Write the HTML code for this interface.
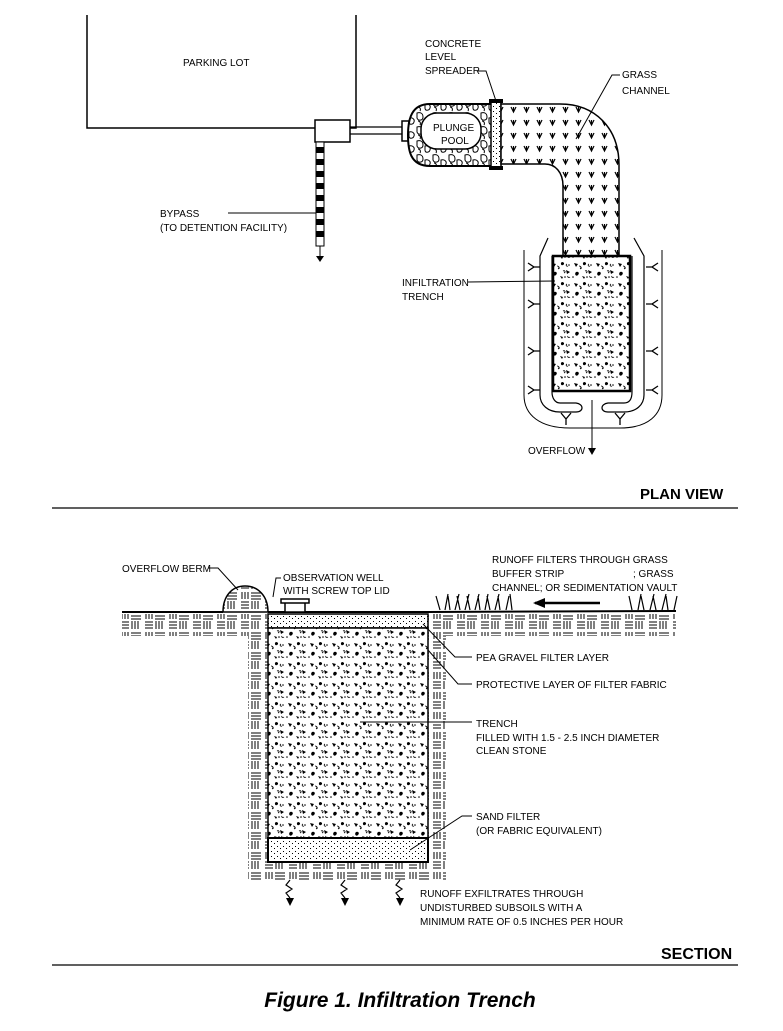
<!DOCTYPE html>
<html><head><meta charset="utf-8"><style>
html,body{margin:0;padding:0;background:#fff}
svg{display:block}
text{font-family:"Liberation Sans",Arial,sans-serif;font-size:10px;fill:#000}
</style></head><body>
<svg width="783" height="1031" viewBox="0 0 783 1031" xmlns="http://www.w3.org/2000/svg">
<defs>
<pattern id="stone" width="22" height="20" patternUnits="userSpaceOnUse">
<rect width="22" height="20" fill="#fff"/>
<path d="M2 3l4 1-2 3z M12 2c2 0 3 2 1 3s-3-2-1-3z M16 10l4 2-3 2z M4 12c2-1 4 1 2 3s-4-1-2-3z M10 16l3 1-1 2z" fill="#000"/>
<path d="M7 6c2 0 3 2 1 3M17 4c-2 1 0 3 1 2M13 11c2-1 3 1 1 2M18 16c-1 1 1 2 2 1" stroke="#000" fill="none" stroke-width="0.8"/>
<circle cx="9" cy="8" r="0.8"/><circle cx="19" cy="5" r="0.8"/><circle cx="1" cy="17" r="0.8"/><circle cx="15" cy="17" r="0.8"/>
</pattern>
<pattern id="grass" width="13" height="13" patternUnits="userSpaceOnUse">
<rect width="13" height="13" fill="#fff"/>
<path d="M4 3l2.5 5 2.5-5 M6.5 3v5" stroke="#000" stroke-width="1.2" fill="none"/>
</pattern>
<pattern id="dots" width="6" height="5" patternUnits="userSpaceOnUse">
<rect width="6" height="5" fill="#fff"/><rect x="1" y="1" width="1" height="1" fill="#000"/><rect x="4" y="3" width="1" height="1" fill="#000"/>
</pattern>
<pattern id="soil" width="24" height="20" patternUnits="userSpaceOnUse">
<rect width="24" height="20" fill="#fff"/>
<path d="M1 2h8M1 5h8M1 8h8 M12 1v8M15 1v8M18 1v8 M2 12v7M5 12v7M8 12v7 M11 13h10M11 16h10M11 19h10" stroke="#000" stroke-width="1"/>
</pattern>
<pattern id="rock" width="16" height="14" patternUnits="userSpaceOnUse">
<rect width="16" height="14" fill="#fff"/>
<path d="M1 1c3-1 6 0 6 4s-5 4-6 1z M9 6c3-1 6 1 5 4s-5 3-5 0z M2 9c2 0 3 2 2 4" stroke="#000" fill="none"/>
</pattern>
</defs>

<!-- PLAN VIEW -->
<path d="M87 15V128H356V15" fill="none" stroke="#000" stroke-width="1.5"/>
<text x="183" y="66">PARKING LOT</text>
<rect x="315" y="120" width="35" height="22" fill="#fff" stroke="#000" stroke-width="1.5"/>
<path d="M350 127H405M350 134H405" stroke="#000" stroke-width="1.2"/>
<rect x="316" y="142" width="8" height="104" fill="#fff" stroke="#000"/>
<path d="M316 150h8M316 162h8M316 174h8M316 186h8M316 198h8M316 210h8M316 222h8M316 234h8" stroke="#000" stroke-width="6"/>
<path d="M320 246V258" stroke="#000"/><path d="M316 256l4 6 4-6z"/>
<text x="160" y="217">BYPASS</text>
<text x="160" y="231">(TO DETENTION FACILITY)</text>
<path d="M228 213H316" stroke="#000"/>

<!-- plunge pool -->
<rect x="402" y="121" width="7" height="20" fill="#fff" stroke="#000" stroke-width="1.5"/>
<path d="M430 104H492V166H430C410 166 408 150 408 135 408 118 412 104 430 104Z" fill="url(#rock)" stroke="#000" stroke-width="2"/>
<rect x="421" y="113" width="60" height="36" rx="16" fill="#fff" stroke="#000" stroke-width="1.5"/>
<text x="433" y="131">PLUNGE</text>
<text x="441" y="144">POOL</text>
<rect x="491" y="102" width="10" height="65" fill="url(#dots)" stroke="#000" stroke-width="1.5"/>
<rect x="489" y="99" width="14" height="4"/><rect x="489" y="166" width="14" height="4"/>
<!-- grass channel -->
<path d="M501 104H560C595 104 619 128 619 165V256H563V186C563 172 555 164 545 164H501Z" fill="url(#grass)" stroke="#000" stroke-width="1.5"/>
<text x="425" y="47">CONCRETE</text>
<text x="425" y="60">LEVEL</text>
<text x="425" y="74">SPREADER</text>
<path d="M478 71h8l10 30" stroke="#000" fill="none"/>
<text x="622" y="78">GRASS</text>
<text x="622" y="94">CHANNEL</text>
<path d="M620 75h-8l-36 64" stroke="#000" fill="none"/>

<!-- berm U -->
<path d="M524 250V395C524 415 540 428 570 428H620C648 428 662 415 662 395V250" fill="none" stroke="#000"/>
<path d="M548 238L540 256V395C540 405 548 412 560 412H576C584 412 584 404 576 403H560C555 403 552 398 552 392V256" fill="none" stroke="#000" stroke-width="1.2"/>
<path d="M634 238L644 256V395C644 405 636 412 624 412H608C600 412 600 404 608 403H624C630 403 632 398 632 392V256" fill="none" stroke="#000" stroke-width="1.2"/>
<g stroke="#000" stroke-width="1.3" fill="none">
<path d="M528 263l6 4-6 4M534 267h6"/><path d="M528 300l6 4-6 4M534 304h6"/><path d="M528 347l6 4-6 4M534 351h6"/><path d="M528 386l6 4-6 4M534 390h6"/>
<path d="M658 263l-6 4 6 4M652 267h-6"/><path d="M658 300l-6 4 6 4M652 304h-6"/><path d="M658 347l-6 4 6 4M652 351h-6"/><path d="M658 386l-6 4 6 4M652 390h-6"/>
<path d="M561 413l5 6 5-6M566 419v6"/><path d="M615 413l5 6 5-6M620 419v6"/>
</g>
<rect x="553" y="256" width="77" height="135" fill="url(#stone)" stroke="#000" stroke-width="2.5"/>
<text x="402" y="286">INFILTRATION</text>
<text x="402" y="300">TRENCH</text>
<path d="M468 282L555 281" stroke="#000"/>
<path d="M592 400V450" stroke="#000"/><path d="M588 448l4 7 4-7z"/>
<text x="528" y="454">OVERFLOW</text>

<path d="M52 508H738" stroke="#000" stroke-width="1.3"/>
<text x="640" y="499" style="font-size:15px;font-weight:bold">PLAN VIEW</text>

<!-- SECTION -->
<rect x="122" y="614" width="554" height="22" fill="url(#soil)"/>
<rect x="248" y="614" width="198" height="266" fill="url(#soil)"/>
<path d="M223 612C223 596 232 586 245 586S268 596 268 612Z" fill="url(#soil)" stroke="#000" stroke-width="1.5"/>
<path d="M122 612H223M268 612H428M428 612L676 611" stroke="#000" stroke-width="2"/>
<rect x="268" y="614" width="160" height="14" fill="url(#dots)" stroke="#000" stroke-width="1.5"/>
<rect x="268" y="628" width="160" height="210" fill="url(#stone)" stroke="#000" stroke-width="1.5"/>
<rect x="268" y="838" width="160" height="24" fill="url(#dots)" stroke="#000" stroke-width="2"/>
<rect x="285" y="602" width="20" height="10" fill="#fff" stroke="#000" stroke-width="1.5"/>
<rect x="281" y="599" width="28" height="4" fill="#fff" stroke="#000" stroke-width="1.5"/>
<g stroke="#000" fill="none" stroke-width="1.2">
<path d="M440 610l-4-14M445 610l3-16M450 610l-2-14M455 610l4-16M460 610l-3-14M465 610l4-16M470 610l-3-14M475 610l4-16M480 610l-2-14M485 610l3-16M490 610l-3-14M495 610l4-16M500 610l-2-14M506 610l3-14M512 610l-2-16"/>
<path d="M632 610l-3-14M638 610l3-16M644 610l-3-14M650 610l4-16M656 610l-3-14M662 610l4-16M668 610l-2-14M674 610l3-14"/>
<path d="M290 880l-4 5 6 4-6 4 4 5M345 880l-4 5 6 4-6 4 4 5M400 880l-4 5 6 4-6 4 4 5"/>
</g>
<path d="M535 603H600" stroke="#000" stroke-width="2.5"/><path d="M533 603l12-5v10z"/>
<path d="M286 898l4 8 4-8zM341 898l4 8 4-8zM396 898l4 8 4-8z"/>

<text x="122" y="572">OVERFLOW BERM</text>
<path d="M208 568h10l20 22" stroke="#000" fill="none"/>
<text x="283" y="581">OBSERVATION WELL</text>
<text x="283" y="594">WITH SCREW TOP LID</text>
<path d="M281 578l-5 0-3 19" stroke="#000" fill="none"/>
<text x="492" y="563">RUNOFF FILTERS THROUGH GRASS</text>
<text x="492" y="577">BUFFER STRIP</text><text x="633" y="577">; GRASS</text>
<text x="492" y="591">CHANNEL; OR SEDIMENTATION VAULT</text>
<text x="476" y="661">PEA GRAVEL FILTER LAYER</text>
<path d="M472 657H455L423 624" stroke="#000" fill="none"/>
<text x="476" y="688">PROTECTIVE LAYER OF FILTER FABRIC</text>
<path d="M472 684H458L428 650" stroke="#000" fill="none"/>
<text x="476" y="727">TRENCH</text>
<text x="476" y="741">FILLED WITH 1.5 - 2.5 INCH DIAMETER</text>
<text x="476" y="754">CLEAN STONE</text>
<path d="M472 722H360" stroke="#000"/>
<text x="476" y="820">SAND FILTER</text>
<text x="476" y="834">(OR FABRIC EQUIVALENT)</text>
<path d="M472 816H462L410 850" stroke="#000" fill="none"/>
<text x="420" y="897">RUNOFF EXFILTRATES THROUGH</text>
<text x="420" y="911">UNDISTURBED SUBSOILS WITH A</text>
<text x="420" y="925">MINIMUM RATE OF 0.5 INCHES PER HOUR</text>

<path d="M52 965H738" stroke="#000" stroke-width="1.3"/>
<text x="661" y="959" style="font-size:16px;font-weight:bold">SECTION</text>
<text x="400" y="1007" text-anchor="middle" style="font-size:21px;font-weight:bold;font-style:italic">Figure 1. Infiltration Trench</text>
</svg>
</body></html>
